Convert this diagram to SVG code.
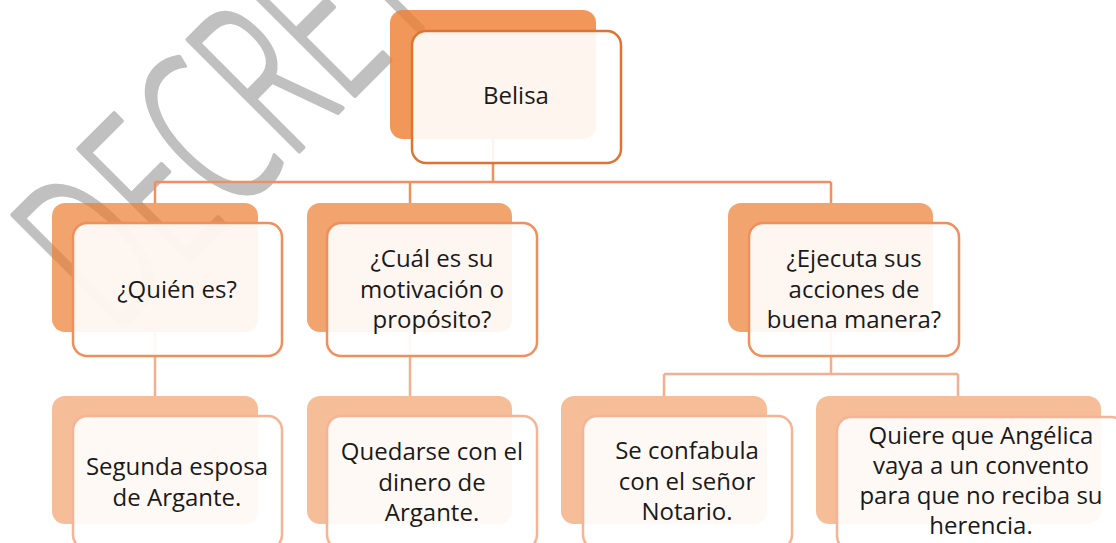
<svg xmlns="http://www.w3.org/2000/svg" width="1116" height="543" viewBox="0 0 1116 543">
<style>
.wm{font-family:"Open Sans","Liberation Sans",sans-serif;font-weight:300;font-size:220px;fill:#c0c0c0;stroke:#c0c0c0;stroke-width:5;stroke-linejoin:round}
.b1{fill:#ED7D31;fill-opacity:0.8}
.b2{fill:#ED7D31;fill-opacity:0.7}
.b3{fill:#ED7D31;fill-opacity:0.5}
.f{fill:#ffffff;fill-opacity:0.9;stroke-width:2.5}
.f1{stroke:#DE7432}
.f2{stroke:#F08E5C}
.f3{stroke:#F4B495}
.t{font-family:"Open Sans","Liberation Sans",sans-serif;font-size:24px;fill:#1a1a1a;text-anchor:middle}
.c1{fill:none;stroke:#F0905C;stroke-width:2.5}
.c2{fill:none;stroke:#F4B08E;stroke-width:2.5}
</style>
<rect width="1116" height="543" fill="#ffffff"/>
<text class="wm" transform="translate(114,336) rotate(-45) scale(0.6,1)">DECRETO</text>
<g id="connectors">
<path class="c1" d="M493,139V182M155,182H831M155,182V203M410,182V203M831,182V203"/>
<path class="c2" d="M155,332V396M410,332V396M831,332V374M664,374H958M664,374V396M958,374V396"/>
</g>
<g id="n-belisa">
<rect class="b1" x="390" y="10" width="206" height="129" rx="13"/>
<rect class="f f1" x="412" y="31" width="209" height="132" rx="14"/>
<text class="t" x="516" y="104">Belisa</text>
</g>
<g id="n-quien">
<rect class="b2" x="52" y="203" width="206" height="129" rx="13"/>
<rect class="f f2" x="73" y="223" width="209" height="133" rx="14"/>
<text class="t" x="177" y="298">¿Quién es?</text>
</g>
<g id="n-motivacion">
<rect class="b2" x="307" y="203" width="205" height="129" rx="13"/>
<rect class="f f2" x="327" y="223" width="210" height="133" rx="14"/>
<text class="t" x="432" y="267">¿Cuál es su</text>
<text class="t" x="432" y="297.5">motivación o</text>
<text class="t" x="432" y="328">propósito?</text>
</g>
<g id="n-ejecuta">
<rect class="b2" x="728" y="203" width="205" height="129" rx="13"/>
<rect class="f f2" x="749" y="223" width="210" height="133" rx="14"/>
<text class="t" x="854" y="267">¿Ejecuta sus</text>
<text class="t" x="854" y="297.5">acciones de</text>
<text class="t" x="854" y="328">buena manera?</text>
</g>
<g id="n-segunda">
<rect class="b3" x="52" y="396" width="206" height="128" rx="13"/>
<rect class="f f3" x="73" y="416" width="209" height="133" rx="14"/>
<text class="t" x="177" y="475">Segunda esposa</text>
<text class="t" x="177" y="506">de Argante.</text>
</g>
<g id="n-quedarse">
<rect class="b3" x="307" y="396" width="205" height="128" rx="13"/>
<rect class="f f3" x="327" y="416" width="210" height="133" rx="14"/>
<text class="t" x="432" y="460">Quedarse con el</text>
<text class="t" x="432" y="491">dinero de</text>
<text class="t" x="432" y="521">Argante.</text>
</g>
<g id="n-confabula">
<rect class="b3" x="561" y="396" width="206" height="128" rx="13"/>
<rect class="f f3" x="583" y="416" width="209" height="133" rx="14"/>
<text class="t" x="687" y="459">Se confabula</text>
<text class="t" x="687" y="490">con el señor</text>
<text class="t" x="687" y="520">Notario.</text>
</g>
<g id="n-quiere">
<rect class="b3" x="816" y="396" width="285" height="128" rx="13"/>
<rect class="f f3" x="837" y="417" width="288" height="133" rx="14"/>
<text class="t" x="981" y="444">Quiere que Angélica</text>
<text class="t" x="981" y="474">vaya a un convento</text>
<text class="t" x="981" y="504">para que no reciba su</text>
<text class="t" x="981" y="534">herencia.</text>
</g>
</svg>
